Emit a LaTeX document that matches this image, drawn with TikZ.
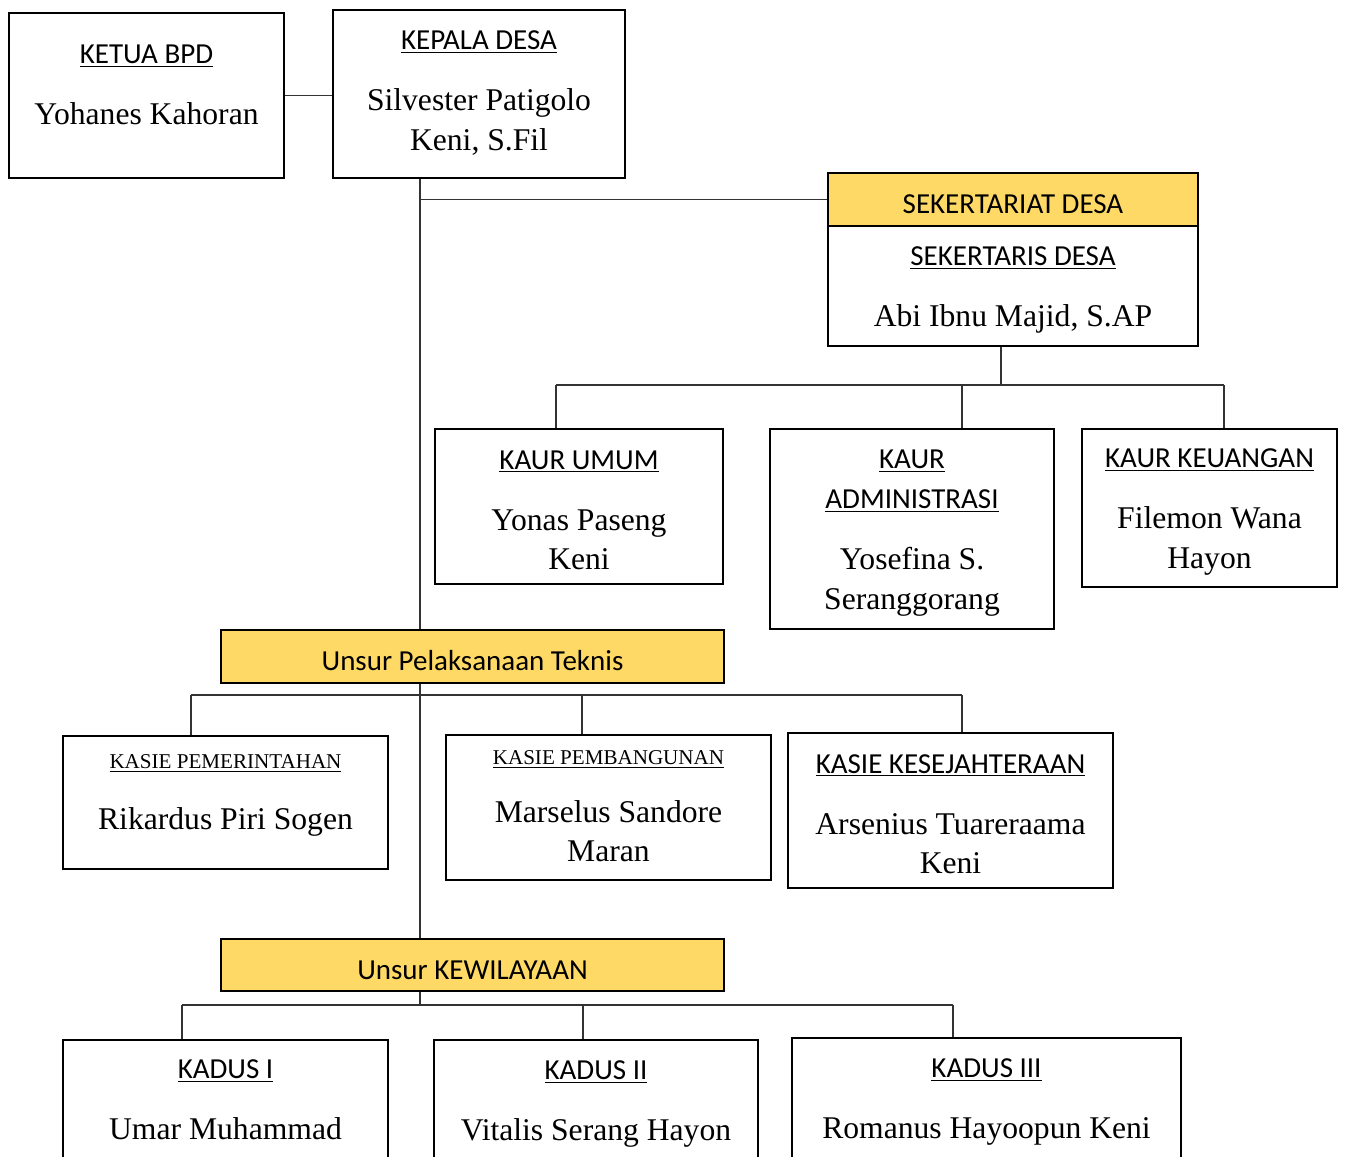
\documentclass[tikz,border=0pt]{standalone}
\usepackage{fontspec}
\setmainfont{Liberation Serif}
\setsansfont{Carlito}
\definecolor{bandgold}{HTML}{FFD966}
\newcommand{\hd}[1]{{\sffamily\fontsize{16.5}{20}\selectfont\rule{0pt}{15pt}\underline{#1}}}
\newcommand{\hdserif}[1]{{\fontsize{12}{14}\selectfont\rule{0pt}{12.5pt}\underline{#1}}}
\newcommand{\lift}[1][16.5pt]{\rule[-#1]{0pt}{0pt}}

\begin{document}
\begin{tikzpicture}[x=0.02cm, y=-0.02cm,
	box/.style={draw, line width=1.6pt, align=center, inner sep=0pt, font=\fontsize{18}{22.7}\selectfont},
	band/.style={draw, line width=1.6pt, fill=bandgold, inner sep=0pt, text height=20pt, text depth=4pt, font=\sffamily\fontsize{16.5}{20}\selectfont},
	link/.style={draw=black!80, line width=0.8pt}]
		%%%%% START %%%%%
		\useasboundingbox (0, 0) rectangle (1347, 1157);
		
		% top
		\node[box, minimum width=5.5cm, minimum height=3.3cm] (ketua) at (146.5, 95.5) {\hd{KETUA BPD}\\[12pt] Yohanes Kahoran\lift};
		\node[box, minimum width=5.84cm, minimum height=3.36cm] (kepala) at (479, 94) {\hd{KEPALA DESA}\\[12pt] Silvester Patigolo\\ Keni, S.Fil\lift[8.5pt]};
		
		% sekretariat
		\node[band, minimum width=7.4cm, minimum height=1.06cm] (sekhead) at (1013, 199.5) {SEKERTARIAT DESA};
		\node[box, minimum width=7.4cm, minimum height=2.4cm] (sekbox) at (1013, 286) {\hd{SEKERTARIS DESA}\\[12pt] Abi Ibnu Majid, S.AP};
		
		% kaur
		\node[box, minimum width=5.76cm, minimum height=3.1cm] (umum) at (579, 506.5) {\hd{KAUR UMUM}\\[12pt] Yonas Paseng\\ Keni};
		\node[box, minimum width=5.68cm, minimum height=4cm] (admin) at (912, 529) {\hd{KAUR}\\ \hd{ADMINISTRASI}\\[12pt] Yosefina S.\\ Seranggorang};
		\node[box, minimum width=5.1cm, minimum height=3.16cm] (keuangan) at (1209.5, 508) {\hd{KAUR KEUANGAN}\\[12pt] Filemon Wana\\ Hayon};
		
		% teknis
		\node[band, minimum width=10.06cm, minimum height=1.06cm] (teknis) at (472.5, 656.5) {Unsur Pelaksanaan Teknis};
		\node[box, minimum width=6.5cm, minimum height=2.66cm] (pemerintahan) at (225.5, 802.5) {\hdserif{KASIE PEMERINTAHAN}\\[12pt] Rikardus Piri Sogen\lift};
		\node[box, minimum width=6.5cm, minimum height=2.9cm] (pembangunan) at (608.5, 807.5) {\hdserif{KASIE PEMBANGUNAN}\\[10pt] Marselus Sandore\\ Maran\lift[6pt]};
		\node[box, minimum width=6.5cm, minimum height=3.1cm] (kesejahteraan) at (950.5, 810.5) {\hd{KASIE KESEJAHTERAAN}\\[12pt] Arsenius Tuareraama\\ Keni};
		
		% kewilayaan
		\node[band, minimum width=10.06cm, minimum height=1.04cm] (wilayah) at (472.5, 965) {Unsur KEWILAYAAN};
		\node[box, minimum width=6.5cm, minimum height=2.4cm] (kadusa) at (225.5, 1100) {\hd{KADUS I}\\[12pt] Umar Muhammad\lift[5pt]};
		\node[box, minimum width=6.48cm, minimum height=2.4cm] (kadusb) at (596, 1100) {\hd{KADUS II}\\[12pt] Vitalis Serang Hayon};
		\node[box, minimum width=7.78cm, minimum height=2.4cm] (kadusc) at (986.5, 1098) {\hd{KADUS III}\\[12pt] Romanus Hayoopun Keni};
		
		% junctions
		\coordinate (trunk) at (420, 1005);
		\coordinate (kaurbar) at (1001, 385);
		\coordinate (umumdrop) at (556, 385);
		\coordinate (admindrop) at (962, 385);
		\coordinate (keudrop) at (1224, 385);
		\coordinate (pemdrop) at (191, 695);
		\coordinate (pembdrop) at (582, 695);
		\coordinate (kesdrop) at (962, 695);
		\coordinate (kadusadrop) at (182, 1005);
		\coordinate (kadusbdrop) at (583, 1005);
		\coordinate (kaduscdrop) at (953, 1005);
		
		\draw[link] (ketua.east) -- (ketua.east -| kepala.west);
		\draw[link] (kepala.south -| trunk) -- (teknis.north -| trunk);
		\draw[link] (teknis.south -| trunk) -- (wilayah.north -| trunk);
		\draw[link] (wilayah.south -| trunk) -- (trunk);
		\draw[link] (sekhead.west) -- (sekhead.west -| trunk);
		
		\draw[link] (sekbox.south -| kaurbar) -- (kaurbar);
		\draw[link] (umumdrop) -- (keudrop);
		\draw[link] (umumdrop) -- (umumdrop |- umum.north);
		\draw[link] (admindrop) -- (admindrop |- admin.north);
		\draw[link] (keudrop) -- (keudrop |- keuangan.north);
		
		\draw[link] (pemdrop) -- (kesdrop);
		\draw[link] (pemdrop) -- (pemdrop |- pemerintahan.north);
		\draw[link] (pembdrop) -- (pembdrop |- pembangunan.north);
		\draw[link] (kesdrop) -- (kesdrop |- kesejahteraan.north);
		
		\draw[link] (kadusadrop) -- (kaduscdrop);
		\draw[link] (kadusadrop) -- (kadusadrop |- kadusa.north);
		\draw[link] (kadusbdrop) -- (kadusbdrop |- kadusb.north);
		\draw[link] (kaduscdrop) -- (kaduscdrop |- kadusc.north);
		
		%%%%% END %%%%%
\end{tikzpicture}
\end{document}
